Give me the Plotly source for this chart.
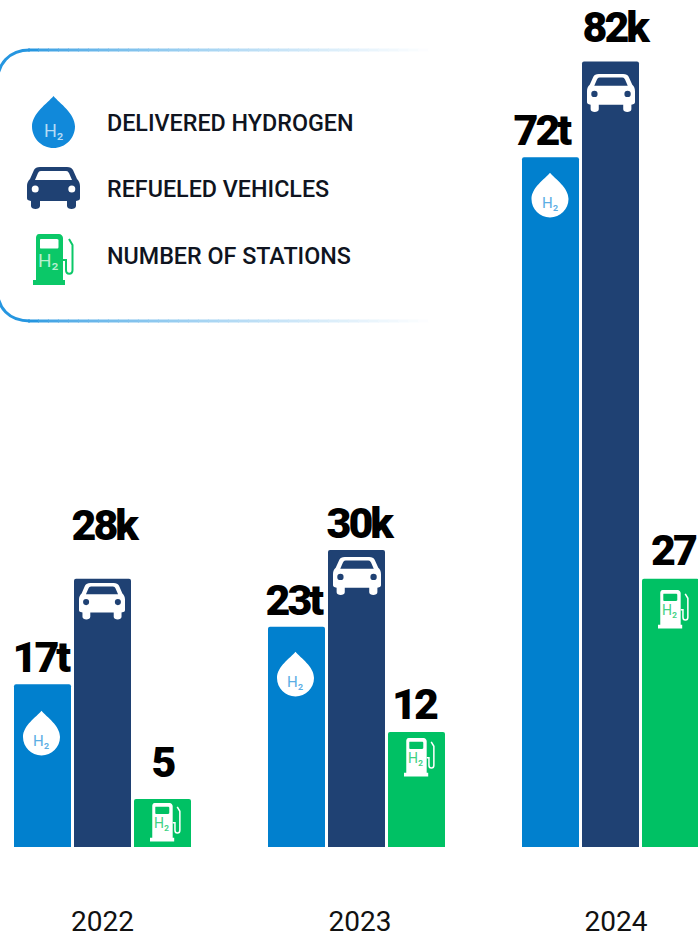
import re
import plotly.graph_objects as go

years = [2022, 2023, 2024]
year_tick_text = ["2022", "2023", "2024"]
year_tick_pos = [2022.0, 2023.014, 2024.022]

# Bar heights as drawn in the picture (the artwork's bars, in label units)
hydrogen_t = [17, 23, 72]
vehicles_k = [28, 31, 82]
stations_n = [5, 12, 28]

hydrogen_labels = ["17t", "23t", "72t"]
vehicles_labels = ["28k", "30k", "82k"]
stations_labels = ["5", "12", "27"]

legend_names = ["DELIVERED HYDROGEN", "REFUELED VEHICLES", "NUMBER OF STATIONS"]

BLUE, NAVY, GREEN = "#0180CE", "#1F4173", "#00C164"
W, H, BASE = 698, 935, 847
UNIT = 9.58
PITCH = 60
LABEL_FONT = "Roboto"
TEXT_FONT = "Roboto"
H2 = "H\u2082"


def px(x):
    return x / W


def py(y):
    return (BASE - y) / BASE


def path(d, ox=0.0, oy=0.0, k=1.0):
    out, is_x = [], True
    for tok in re.findall(r"[A-Za-z]|-?\d+\.?\d*", d):
        if tok.isalpha():
            out.append(tok)
            is_x = True
        else:
            v = float(tok)
            out.append(f"{px(ox + v * k):.5f}" if is_x else f"{py(oy + v * k):.5f}")
            is_x = not is_x
    return " ".join(out)


shapes, annotations = [], []


def fill(d, color, ox=0.0, oy=0.0, k=1.0):
    shapes.append(dict(type="path", path=path(d, ox, oy, k), fillcolor=color,
                       line=dict(width=0), xref="paper", yref="paper"))


def stroke(d, color, width, ox=0.0, oy=0.0, k=1.0):
    shapes.append(dict(type="path", path=path(d, ox, oy, k),
                       line=dict(color=color, width=width), xref="paper", yref="paper"))


def circle(cx, cy, r, color):
    shapes.append(dict(type="circle", x0=px(cx - r), x1=px(cx + r), y0=py(cy + r), y1=py(cy - r),
                       fillcolor=color, line=dict(width=0), xref="paper", yref="paper"))


def free_text(text, x, y, size, color, font=TEXT_FONT, xanchor="center", weight=400):
    annotations.append(dict(text=text, x=px(x), y=py(y), xref="paper", yref="paper",
                            xanchor=xanchor, yanchor="middle", showarrow=False,
                            font=dict(family=font, size=size, color=color, weight=weight)))


def drop(cx, cy, r, color, h2color, size):
    d = (f"M {cx} {cy - 1.42 * r} "
         f"C {cx + 0.28 * r} {cy - 1.08 * r} {cx + r} {cy - 0.62 * r} {cx + r} {cy} "
         f"C {cx + r} {cy + 0.55 * r} {cx + 0.55 * r} {cy + r} {cx} {cy + r} "
         f"C {cx - 0.55 * r} {cy + r} {cx - r} {cy + 0.55 * r} {cx - r} {cy} "
         f"C {cx - r} {cy - 0.62 * r} {cx - 0.28 * r} {cy - 1.08 * r} {cx} {cy - 1.42 * r} Z")
    fill(d, color)
    free_text(H2, cx - 0.02 * r, cy + 0.2 * r, size, h2color)


def car(x, y, width, color, hole):
    k = width / 53
    body = ("M 13 0 L 40 0 C 43 0 45 1 46 3 L 50 12 C 52 14 53 16 53 19 L 53 31 C 53 33 52 33 49 34 "
            "L 49 39 C 49 43 40 43 40 39 L 40 34 L 13 34 L 13 39 C 13 43 4 43 4 39 L 4 34 "
            "C 1 33 0 33 0 31 L 0 19 C 0 16 1 14 3 12 L 7 3 C 8 1 10 0 13 0 Z")
    fill(body, color, x, y, k)
    fill("M 14 4 L 39 4 C 41 4 41 5 42 6 L 45 13 L 8 13 L 11 6 C 12 5 12 4 14 4 Z", hole, x, y, k)
    circle(x + 8.2 * k, y + 22 * k, 3.5 * k, hole)
    circle(x + 44.8 * k, y + 22 * k, 3.5 * k, hole)


def pump(x, y, width, color, hole, h2color, size):
    k = width / 41
    fill("M 6 0 L 26 0 C 28 0 30 2 30 4 L 30 46 L 32 46 L 32 51 L 0 51 L 0 46 L 3 46 L 3 4 C 3 2 4 0 6 0 Z",
         color, x, y, k)
    fill("M 8 5 L 24 5 C 25 5 25.500 6 25.500 6 L 25.500 13 C 25.500 14 25 14.500 24 14.500 L 8 14.500 "
         "C 7 14.500 7 14 7 13 L 7 6 C 7 5 7.500 5 8 5 Z", hole, x, y, k)
    stroke("M 30 26 L 33 26 L 33 36 C 33 41 39.500 41 39.500 36 L 39.500 11 L 36 5", color, max(1.2, 2 * k), x, y, k)
    free_text(H2, x + 15.5 * k, y + 26.5 * k, size, h2color)


# Legend frame: rounded on the left, fading to white towards the right
def mix(t):
    t = min(1.0, max(0.0, t)) ** 0.62
    a, b = (38, 150, 224), (255, 255, 255)
    return "rgb(" + ",".join(str(round(a[i] + (b[i] - a[i]) * t)) for i in range(3)) + ")"


for d in ("M -3 84 C -3 64 9 50 30 50", "M -3 288 C -3 308 9 321 30 321"):
    stroke(d, mix(0), 3)
for line_y in (50, 321):
    x = 28
    while x < 430:
        stroke(f"M {x} {line_y} L {x + 11} {line_y}", mix((x - 28) / 400), 3)
        x += 10

# Legend icons and entries
drop(53.5, 126.5, 21.5, "#1189DA", "#B5DBF5", 18)
car(27, 167, 53, NAVY, "#FFFFFF")
pump(33, 234, 41, "#0BC868", "#FFFFFF", "#B6EFCF", 19)
for name, y in zip(legend_names, (123, 189, 256)):
    free_text(name, 105, y, 23.3, "#0F1420", xanchor="left", weight=500)

# Icons inside the bars
for cx, cy in ((41.5, 737), (295.5, 678), (550, 199)):
    drop(cx, cy, 18.5, "#FFFFFF", "#5BAEE4", 15)
for x, y, w in ((79, 583, 46), (333, 557, 48), (587, 74, 48)):
    car(x, y, w, "#FFFFFF", NAVY)
for x, y in ((150, 803), (404, 738), (658, 590)):
    pump(x, y, 31, "#FFFFFF", GREEN, "#3FD184", 14)

# Value labels above the bars: series offset, x nudges and gaps in px
series = [
    (hydrogen_labels, hydrogen_t, -PITCH, [-2.5, -3.5, -9.5], [0, 0, 0]),
    (vehicles_labels, vehicles_k, 0, [1.5, 2.5, 4.5], [27, 0, 7]),
    (stations_labels, stations_n, PITCH, [0, -2.5, 2], [10, 1, 2]),
]
for labels, vals, off, nudges, gaps in series:
    for yr, lab, v, n, g in zip(years, labels, vals, nudges, gaps):
        annotations.append(dict(text=lab, x=yr, y=v, xref="x", yref="y", xshift=off + n, yshift=g,
                                xanchor="center", yanchor="bottom", showarrow=False,
                                font=dict(family=LABEL_FONT, size=43, color="#000000", weight=900)))

fig = go.Figure()
for name, vals, color in zip(legend_names, (hydrogen_t, vehicles_k, stations_n), (BLUE, NAVY, GREEN)):
    fig.add_bar(x=years, y=vals, name=name, marker=dict(color=color, line=dict(width=0)), showlegend=False)

unit_x = 254
fig.update_layout(
    width=W, height=H, autosize=False, paper_bgcolor="white", plot_bgcolor="white",
    margin=dict(l=0, r=0, t=0, b=H - BASE, pad=0),
    barmode="group", bargap=1 - 180 / unit_x, bargroupgap=0.05, barcornerradius=2,
    xaxis=dict(range=[2022 - 102.5 / unit_x, 2022 + (W - 102.5) / unit_x], showgrid=False, zeroline=False,
               showline=False, ticks="", tickmode="array", tickvals=year_tick_pos, ticktext=year_tick_text,
               automargin=False, ticklabelstandoff=55,
               tickfont=dict(family=TEXT_FONT, size=28, color="#111111")),
    yaxis=dict(range=[0, BASE / UNIT], visible=False, automargin=False),
    shapes=shapes, annotations=annotations, showlegend=False,
)
post = """
document.documentElement.style.overflow='hidden';
document.body.style.margin='0';
document.querySelectorAll('.annotation-text').forEach(function(t){
  if (parseFloat(t.style.fontSize) > 40) { t.style.letterSpacing='-3px'; }
});
"""
fig.write_html("out.html", config=dict(displayModeBar=False), post_script=post)
